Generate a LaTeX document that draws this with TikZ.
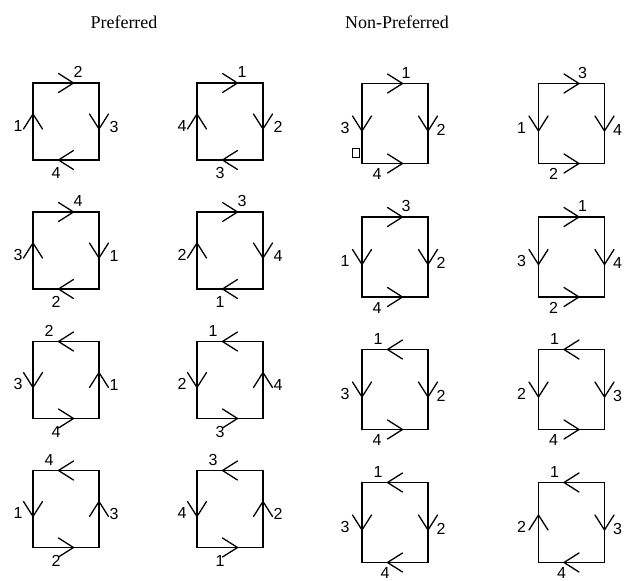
\documentclass[tikz,border=0pt]{standalone}
\usepackage{fontspec}
\setmainfont{Liberation Serif}
\newfontfamily\digitfont{Liberation Sans}
\usepackage{tikz}
\usetikzlibrary{positioning}

\tikzset{
    chevline/.style={line width=1.3pt, line cap=round, line join=miter},
    chev/.pic={\draw[chevline] (-7.5,-9.5) -- (7.5,0) -- (-7.5,9.5);}
}

\begin{document}
\begin{tikzpicture}[
    x=1pt, y=-1pt,
    sqp/.style={rectangle, draw, line width=1.9pt, outer sep=0pt, minimum width=66pt, minimum height=77pt},
    sqn/.style={rectangle, draw, line width=1.9pt, outer sep=0pt, minimum width=66pt, minimum height=80pt},
    lab/.style={font=\digitfont\fontsize{16}{18}\selectfont, inner sep=0pt},
    title/.style={font=\fontsize{18}{21}\selectfont, anchor=base, inner sep=0pt}
]
    \useasboundingbox (0,0) rectangle (630,581);

    \node [title] (pref) at (124,28) {Preferred};
    \node [title] (nonpref) at (397,28) {Non-Preferred};

    % preferred: name/x/y/top/label/right/label/bottom/label/left/label
    \foreach \nm/\cx/\cy/\tA/\tL/\rA/\rL/\bA/\bL/\lA/\lL in {
        p1/66/121.5/0/2/270/3/180/4/90/1,
        p2/230/121.5/0/1/270/2/180/3/90/4,
        p3/66/250.5/0/4/270/1/180/2/90/3,
        p4/230/250.5/0/3/270/4/180/1/90/2,
        p5/66/380/180/2/90/1/0/4/270/3,
        p6/230/380/180/1/90/4/0/3/270/2,
        p7/66/509/180/4/90/3/0/2/270/1,
        p8/230/509/180/3/90/2/0/1/270/4}{
        \node [sqp] (\nm) at (\cx,\cy) {};
        \pic [rotate=\tA] at (\nm.north) {chev};
        \pic [rotate=\rA] at (\nm.east) {chev};
        \pic [rotate=\bA] at (\nm.south) {chev};
        \pic [rotate=\lA] at (\nm.west) {chev};
        \pgfmathsetmacro{\tx}{\tA==0 ? 12 : -17}
        \node [lab] (\nm-t) at ([xshift=\tx pt, yshift=11pt]\nm.north) {\tL};
        \node [lab] (\nm-r) at ([xshift=15pt, yshift=-5pt]\nm.east) {\rL};
        \node [lab] (\nm-b) at ([xshift=-10pt, yshift=-13pt]\nm.south) {\bL};
        \node [lab] (\nm-l) at ([xshift=-15pt, yshift=-4pt]\nm.west) {\lL};
    }

    % non-preferred
    \foreach \nm/\cx/\cy/\tA/\tL/\rA/\rL/\bA/\bL/\lA/\lL in {
        n1/395/123.5/0/1/270/2/0/4/270/3,
        n2/571.5/123.5/0/3/270/4/0/2/270/1,
        n3/395/257/0/3/270/2/0/4/270/1,
        n4/571.5/257/0/1/270/4/0/2/270/3,
        n5/395/389.5/180/1/270/2/0/4/270/3,
        n6/571.5/389.5/180/1/270/3/0/4/270/2,
        n7/395/522.5/180/1/270/2/180/4/270/3,
        n8/571.5/522.5/180/1/270/3/180/4/90/2}{
        \node [sqn] (\nm) at (\cx,\cy) {};
        \pic [rotate=\tA] at (\nm.north) {chev};
        \pic [rotate=\rA] at (\nm.east) {chev};
        \pic [rotate=\bA] at (\nm.south) {chev};
        \pic [rotate=\lA] at (\nm.west) {chev};
        \pgfmathsetmacro{\tx}{\tA==0 ? 11 : -17}
        \pgfmathsetmacro{\bx}{\bA==0 ? -18 : -10}
        \node [lab] (\nm-t) at ([xshift=\tx pt, yshift=11pt]\nm.north) {\tL};
        \node [lab] (\nm-r) at ([xshift=13pt, yshift=-6pt]\nm.east) {\rL};
        \node [lab] (\nm-b) at ([xshift=\bx pt, yshift=-10.5pt]\nm.south) {\bL};
        \node [lab] (\nm-l) at ([xshift=-17pt, yshift=-4pt]\nm.west) {\lL};
    }

    % small mark by the first non-preferred loop
    \node [rectangle, draw, line width=0.8pt, minimum width=7pt, minimum height=9pt, inner sep=0pt] (mark) at (355.5,152.5) {};
\end{tikzpicture}
\end{document}
